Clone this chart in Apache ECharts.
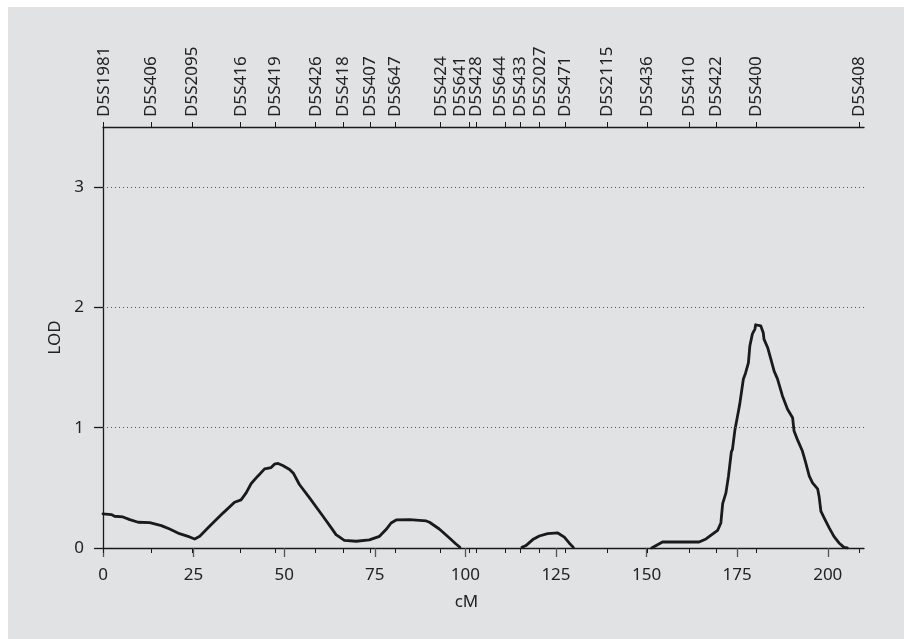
<!DOCTYPE html>
<html>
<head>
<meta charset="utf-8">
<script src="https://cdn.jsdelivr.net/npm/echarts@6/dist/echarts.min.js"></script>
<style>
html,body{margin:0;padding:0;background:#ffffff;}
#chart{width:904px;height:639px;}
</style>
</head>
<body>
<div id="chart"></div>
<script>
// Marker names, tick positions (cM) and label positions (cM, spread where crowded)
var markerNames = ['D5S1981','D5S406','D5S2095','D5S416','D5S419','D5S426','D5S418','D5S407','D5S647','D5S424','D5S641','D5S428','D5S644','D5S433','D5S2027','D5S471','D5S2115','D5S436','D5S410','D5S422','D5S400','D5S408'];
var markerPos   = [0.2, 13.2, 24.6, 38.0, 47.6, 58.7, 66.4, 73.8, 80.6, 93.2, 101.2, 103.0, 111.0, 115.1, 120.5, 127.6, 139.1, 150.1, 161.7, 169.3, 180.2, 208.7];
var markerLabelPos = [0.2, 13.2, 24.6, 38.0, 47.6, 58.7, 66.4, 73.8, 80.6, 93.2, 98.5, 103.0, 109.5, 115.1, 120.5, 127.6, 139.1, 150.1, 161.7, 169.3, 180.2, 208.7];

// Bottom axis ticks
var xTicks = [0, 25, 50, 75, 100, 125, 150, 175, 200];
var yTicks = [0, 1, 2, 3];

// Curve segment 1
var seg1Cm  = [0, 2.3, 3.2, 5.5, 7.4, 9.7, 12.9, 16.1, 18.4, 21.1, 23.9, 25.3, 26.7, 29.4, 33.1, 36.3, 38.1, 39.5, 40.9, 42.7, 44.6, 46.4, 47.3, 48.3, 49.6, 51.5, 52.6, 54.2, 57.0, 60.7, 63.0, 64.3, 66.6, 69.9, 73.5, 76.3, 78.1, 79.5, 80.9, 84.6, 89.2, 90.1, 92.8, 95.6, 97.4, 98.5];
var seg1Lod = [0.283, 0.278, 0.264, 0.258, 0.236, 0.214, 0.211, 0.186, 0.158, 0.119, 0.092, 0.075, 0.097, 0.18, 0.29, 0.38, 0.40, 0.458, 0.536, 0.597, 0.658, 0.669, 0.697, 0.703, 0.686, 0.653, 0.619, 0.528, 0.417, 0.264, 0.167, 0.111, 0.064, 0.056, 0.067, 0.097, 0.153, 0.208, 0.233, 0.236, 0.225, 0.214, 0.158, 0.083, 0.033, 0.006];

// Curve segment 2
var seg2Cm  = [115.6, 116.7, 118.6, 120.4, 122.7, 125.5, 127.3, 128.7, 129.8];
var seg2Lod = [0.005, 0.02, 0.07, 0.10, 0.12, 0.125, 0.09, 0.04, 0.005];

// Curve segment 3
var seg3Cm  = [151.4, 154.4, 164.5, 166.4, 169.6, 170.5, 171.0, 171.9, 172.6, 173.4, 173.7, 174.4, 175.1, 175.7, 176.7, 177.3, 178.1, 178.5, 179.2, 179.9, 180.1, 180.6, 181.5, 182.2, 182.4, 183.4, 184.3, 185.2, 186.1, 187.5, 188.9, 190.3, 190.7, 191.6, 193.0, 193.8, 194.9, 195.8, 197.2, 197.6, 198.1, 199.0, 200.4, 201.7, 203.1, 204.5, 205.4];
var seg3Lod = [0.0, 0.05, 0.05, 0.075, 0.147, 0.208, 0.369, 0.458, 0.597, 0.80, 0.82, 0.986, 1.097, 1.194, 1.403, 1.453, 1.54, 1.68, 1.78, 1.82, 1.856, 1.867, 1.847, 1.79, 1.736, 1.667, 1.57, 1.47, 1.408, 1.264, 1.153, 1.083, 0.972, 0.903, 0.806, 0.722, 0.597, 0.542, 0.492, 0.431, 0.306, 0.25, 0.167, 0.097, 0.042, 0.005, 0.0];

function pairs(xs, ys){ return xs.map(function(x,i){ return [x, ys[i]]; }); }

var FONT = 'Noto Sans';
var TXT = '#222222';
var AX = '#1a1a1a';

var chart = echarts.init(document.getElementById('chart'), null, {renderer:'canvas'});

function lineSeries(data){
  return {
    type: 'line', data: data, xAxisIndex: 0, yAxisIndex: 0,
    showSymbol: false, symbol: 'none', smooth: false,
    lineStyle: {color: '#1a1a1a', width: 2.8, join: 'round', cap: 'round'},
    silent: true, animation: false
  };
}

chart.setOption({
  animation: false,
  backgroundColor: '#ffffff',
  graphic: [{
    type: 'rect', z: -10, silent: true,
    shape: {x: 8, y: 7, width: 896, height: 632},
    style: {fill: '#e1e2e4'}
  }],
  grid: {left: 103, right: 40, top: 127, bottom: 91, containLabel: false},
  xAxis: [
    {
      type: 'value', position: 'bottom', min: 0, max: 210,
      name: 'cM', nameLocation: 'middle', nameGap: 46,
      nameTextStyle: {fontFamily: FONT, fontSize: 17, color: TXT, padding: [0, 34, 0, 0]},
      axisLine: {show: true, onZero: false, lineStyle: {color: AX, width: 1.3}},
      axisTick: {show: true, length: 9, customValues: xTicks, lineStyle: {color: '#555', width: 1.3}},
      axisLabel: {show: true, customValues: xTicks, margin: 19, fontFamily: FONT, fontSize: 17, color: TXT},
      splitLine: {show: false}
    },
    {
      type: 'value', position: 'top', min: 0, max: 210,
      axisLine: {show: true, onZero: false, lineStyle: {color: AX, width: 1.3}},
      axisTick: {show: true, length: 5, inside: false, customValues: markerPos, lineStyle: {color: AX, width: 1}},
      axisLabel: {
        show: true, customValues: markerLabelPos, rotate: -90, margin: 10,
        fontFamily: FONT, fontSize: 17, color: TXT,
        formatter: function(v){
          for (var i = 0; i < markerLabelPos.length; i++) {
            if (Math.abs(markerLabelPos[i] - v) < 1e-6) return markerNames[i];
          }
          return '';
        }
      },
      splitLine: {show: false}
    },
    {
      type: 'value', position: 'top', min: 0, max: 210,
      axisLine: {show: false},
      axisTick: {show: true, length: 5, inside: true, customValues: markerPos, lineStyle: {color: AX, width: 1}},
      axisLabel: {show: false},
      splitLine: {show: false}
    }
  ],
  yAxis: [{
    type: 'value', min: 0, max: 3.5,
    name: 'LOD', nameLocation: 'middle', nameGap: 36, nameRotate: 90,
    nameTextStyle: {fontFamily: FONT, fontSize: 17, color: TXT},
    axisLine: {show: true, onZero: false, lineStyle: {color: AX, width: 1.3}},
    axisTick: {show: true, length: 9, customValues: yTicks, lineStyle: {color: AX, width: 1.3}},
    axisLabel: {show: true, customValues: yTicks, margin: 19, fontFamily: FONT, fontSize: 17, color: TXT},
    splitLine: {show: false}
  }],
  series: [
    lineSeries(pairs(seg1Cm, seg1Lod)),
    lineSeries(pairs(seg2Cm, seg2Lod)),
    lineSeries(pairs(seg3Cm, seg3Lod)),
    {
      type: 'line', data: [], xAxisIndex: 0, yAxisIndex: 0, silent: true,
      markLine: {
        silent: true, symbol: 'none', animation: false,
        label: {show: false},
        lineStyle: {color: '#555', width: 1, type: [1, 3]},
        data: [{yAxis: 1}, {yAxis: 2}, {yAxis: 3}]
      }
    }
  ]
});
</script>
</body>
</html>
